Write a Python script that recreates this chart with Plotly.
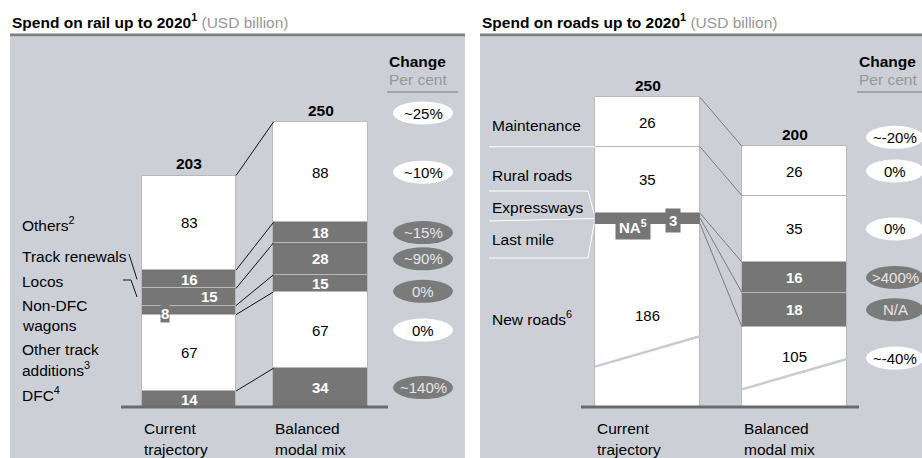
import plotly.graph_objects as go

# ---------------- data ----------------
BAR_NAMES = ["Current trajectory", "Balanced modal mix"]
BAR_LABEL_LINES = [["Current", "trajectory"], ["Balanced", "modal mix"]]

RAIL_SEGMENTS = ["DFC", "Other track additions", "Non-DFC wagons", "Locos", "Track renewals", "Others"]
RAIL_LABELS = [["DFC<sup>4</sup>"], ["Other track", "additions<sup>3</sup>"], ["Non-DFC", "wagons"],
               ["Locos"], ["Track renewals"], ["Others<sup>2</sup>"]]
RAIL_CURRENT = [14, 67, 8, 15, 16, 83]
RAIL_BALANCED = [34, 67, 15, 28, 18, 88]
RAIL_CHANGE = ["~140%", "0%", "0%", "~90%", "~15%", "~10%"]
RAIL_TOTAL_CHANGE = "~25%"

ROAD_SEGMENTS = ["New roads", "Last mile", "Expressways", "Rural roads", "Maintenance"]
ROAD_LABELS = [["New roads<sup>6</sup>"], ["Last mile"], ["Expressways"], ["Rural roads"], ["Maintenance"]]
ROAD_CURRENT = [186, 3, None, 35, 26]          # None = NA
ROAD_BALANCED = [105, 18, 16, 35, 26]
ROAD_CHANGE = ["~-40%", "N/A", ">400%", "0%", "0%"]
ROAD_TOTAL_CHANGE = "~-20%"

TITLES = ["Spend on rail up to 2020", "Spend on roads up to 2020"]

# ---------------- style / layout ----------------
W, H = 922, 458
FONT = "Arial, 'Liberation Sans', Helvetica, sans-serif"
BG = "#ccd0d6"
DARK = "#767676"
PILL_DARK = "#7b7b7b"
OUTLINE = "#b8b8b8"
RULE = "#7f7f7f"
GRAY_TXT = "#979797"
BASE_PX = 407
BAR_W = 0.715
TXT = 15.5
NUM = 15

RAIL_DARK = [True, False, True, True, True, False]
ROAD_DARK = [False, True, True, False, False]

# scale break of the "New roads" segment and placeholder height of the NA band
BREAK_OFFSET, BREAK_SCALE = 42, 0.67
NA_SHOWN = 2.5
BREAK_AT, BREAK_RISE = 0.22, 16

P_RAIL = dict(L=10, R=465, c0=189, sp=131.5, s=1.14, xa="x", ya="y", base=(121, 388),
              chg_x=387, rule_r=458, pill_x=423, pill_w=60, label_x=20,
              label_y=[[394], [349, 369], [305, 325], [281], [256], [224]], conn="#111111")
P_ROAD = dict(L=480, R=922, c0=647.5, sp=147, s=1.9, xa="x2", ya="y2", base=(581, 859),
              chg_x=857, rule_r=922, pill_x=895, pill_w=58, label_x=490,
              label_y=[[318], [239], [207], [175], [126]], conn="#7a7a7a")


def ux(p, px):
    return (px - p["c0"]) / p["sp"]


def uy(p, py):
    return (BASE_PX - py) / p["s"]


fig = go.Figure()
shapes, annots = [], []


def text(t, x, y, xref, yref, size=TXT, color="black", xanchor="center", yanchor="middle", **kw):
    annots.append(dict(text=t, x=x, y=y, xref=xref, yref=yref, showarrow=False,
                       font=dict(family=FONT, size=size, color=color),
                       xanchor=xanchor, yanchor=yanchor, **kw))


def line_trace(p, xs, ys, color, width=1):
    fig.add_trace(go.Scatter(x=xs, y=ys, mode="lines", xaxis=p["xa"], yaxis=p["ya"],
                             line=dict(color=color, width=width), hoverinfo="skip",
                             showlegend=False))


def cum(vals):
    out, s = [], 0
    for v in vals:
        out.append(s)
        s += v
    return out, s


def panel(p, title, cur_shown, bal_shown, cur_txt, bal_txt, dark, labels, changes, total_change,
          totals, specials, band_nolines=(), label_y_fn=None, pill_y_fn=None):
    L, R = p["L"], p["R"]
    # background, title and rule
    shapes.append(dict(type="rect", xref="paper", yref="paper", x0=L / W, x1=R / W, y0=0,
                       y1=1 - 37 / H, fillcolor=BG, line=dict(width=0), layer="below"))
    shapes.append(dict(type="line", xref="paper", yref="paper", x0=L / W, x1=R / W,
                       y0=1 - 35 / H, y1=1 - 35 / H, line=dict(color=RULE, width=3)))
    text(f"<b>{title}<sup>1</sup></b><span style='color:{GRAY_TXT}'> (USD billion)</span>",
         L / W, 1 - 21 / H, "paper", "paper", xanchor="left")
    # change header
    text("<b>Change</b>", p["chg_x"] / W, 1 - 62 / H, "paper", "paper", xanchor="left")
    text("Per cent", p["chg_x"] / W, 1 - 79 / H, "paper", "paper", color=GRAY_TXT, xanchor="left")
    shapes.append(dict(type="line", xref="paper", yref="paper", x0=p["chg_x"] / W,
                       x1=p["rule_r"] / W, y0=1 - 92 / H, y1=1 - 92 / H,
                       line=dict(color="#a3a3a3", width=2)))

    bc, tc = cum(cur_shown)
    bb, tb = cum(bal_shown)
    xa, ya = p["xa"], p["ya"]
    # bars
    for i in range(len(cur_shown)):
        lw = [0 if i in band_nolines else 1, 1]
        fig.add_trace(go.Bar(x=[0, 1], y=[cur_shown[i], bal_shown[i]], base=[bc[i], bb[i]],
                             width=BAR_W, xaxis=xa, yaxis=ya, hoverinfo="skip", showlegend=False,
                             marker=dict(color=DARK if dark[i] else "white",
                                         line=dict(color=OUTLINE, width=lw))))
    # connectors
    xs, ys = [], []
    for i in range(len(cur_shown)):
        xs += [BAR_W / 2, 1 - BAR_W / 2, None]
        ys += [bc[i] + cur_shown[i], bb[i] + bal_shown[i], None]
    line_trace(p, xs, ys, p["conn"], 1)
    # baseline
    shapes.append(dict(type="line", xref=xa, yref=ya, x0=ux(p, p["base"][0]), x1=ux(p, p["base"][1]),
                       y0=0, y1=0, line=dict(color="#6b6b6b", width=3)))
    # in-bar labels
    for j, (bases, shown, txts) in enumerate([(bc, cur_shown, cur_txt), (bb, bal_shown, bal_txt)]):
        for i in range(len(shown)):
            cy = bases[i] + shown[i] / 2
            if label_y_fn:
                cy = label_y_fn(j, i, bases[i], shown[i], cy)
            t = txts[i]
            col = "white" if dark[i] else "black"
            if dark[i]:
                t = f"<b>{t}</b>"
            sp = specials.get((j, i))
            if sp is None:
                text(t, j, cy, xa, ya, size=NUM, color=col)
            elif sp.get("right"):
                text(t, j + BAR_W / 2 - sp["right"] / p["sp"], cy, xa, ya, size=NUM, color=col,
                     xanchor="right")
            else:
                text(t, j + sp["dx"] / p["sp"], cy, xa, ya, size=NUM, color=col,
                     bgcolor=DARK, borderpad=sp.get("pad", 1), yshift=sp.get("dy", 0))
    # totals
    for j, (top, tot) in enumerate([(tc, totals[0]), (tb, totals[1])]):
        text(f"<b>{tot}</b>", j, top, xa, ya, size=TXT, yshift=12)
    # category labels
    for j, lines in enumerate(BAR_LABEL_LINES):
        for k, ln in enumerate(lines):
            text(ln, j - BAR_W / 2, 1 - (428 + 21 * k) / H, xa, "paper", xanchor="left")
    # left labels
    for i, lines in enumerate(labels):
        for k, ln in enumerate(lines):
            text(ln, p["label_x"] / W, 1 - p["label_y"][i][k] / H, "paper", "paper", xanchor="left")
    # pills
    hw = p["pill_w"] / 2 / p["sp"]
    hh = 11.5 / p["s"]
    cx = ux(p, p["pill_x"])
    pills = [(tb + 9 / p["s"], total_change, False)]
    for i in range(len(bal_shown)):
        cy = bb[i] + bal_shown[i] / 2
        if pill_y_fn:
            cy = pill_y_fn(i, bb[i], bal_shown[i], cy)
        pills.append((cy, changes[i], dark[i]))
    for cy, t, dk in pills:
        shapes.append(dict(type="circle", xref=xa, yref=ya, x0=cx - hw, x1=cx + hw,
                           y0=cy - hh, y1=cy + hh, fillcolor=PILL_DARK if dk else "white",
                           line=dict(width=0)))
        text(t, cx, cy, xa, ya, size=NUM, color="#e6e6e6" if dk else "black")
    return bc, bb, tc, tb


# ---------------- rail panel ----------------
rail_totals = [sum(RAIL_CURRENT), sum(RAIL_BALANCED)]
rail_specials = {(0, 2): dict(dx=-24.5, dy=-3, pad=0), (0, 3): dict(right=16)}


def rail_pill_y(i, b, h, cy):
    return cy - 8 / P_RAIL["s"] if i == 2 else cy


rbc, rbb, _, _ = panel(P_RAIL, TITLES[0], RAIL_CURRENT, RAIL_BALANCED,
                       [str(v) for v in RAIL_CURRENT], [str(v) for v in RAIL_BALANCED],
                       RAIL_DARK, RAIL_LABELS, RAIL_CHANGE, RAIL_TOTAL_CHANGE, rail_totals,
                       rail_specials, pill_y_fn=rail_pill_y)

# leader lines for "Track renewals" and "Locos"
p = P_RAIL
ren_c = rbc[4] + RAIL_CURRENT[4] / 2
loc_c = rbc[3] + RAIL_CURRENT[3] / 2
line_trace(p, [ux(p, 129), ux(p, 137)], [uy(p, 254), ren_c], "#111111", 1)
line_trace(p, [ux(p, 123), ux(p, 131), ux(p, 137)], [uy(p, 280), uy(p, 280), loc_c], "#111111", 1)

# ---------------- road panel ----------------


def road_shown(vals):
    out = []
    for i, v in enumerate(vals):
        if v is None:
            out.append(NA_SHOWN)
        elif i == 0:
            out.append((v - BREAK_OFFSET) * BREAK_SCALE)
        else:
            out.append(v)
    return out


road_cur_shown = road_shown(ROAD_CURRENT)
road_bal_shown = road_shown(ROAD_BALANCED)
road_totals = [sum(v for v in ROAD_CURRENT if v is not None), sum(ROAD_BALANCED)]
road_cur_txt = [("NA<sup>5</sup>" if v is None else str(v)) for v in ROAD_CURRENT]
road_bal_txt = [str(v) for v in ROAD_BALANCED]
road_specials = {(0, 1): dict(dx=25, dy=0, pad=3), (0, 2): dict(dx=-14.5, dy=-11, pad=3)}


def road_label_y(j, i, b, h, cy):
    if i == 0:
        return max(cy, BREAK_AT * h + BREAK_RISE + 1.5)
    return cy


def road_pill_y(i, b, h, cy):
    if i == 0:
        return max(cy, BREAK_AT * h + BREAK_RISE + 1.5) - 2 / P_ROAD["s"]
    return cy


qbc, qbb, _, _ = panel(P_ROAD, TITLES[1], road_cur_shown, road_bal_shown, road_cur_txt,
                       road_bal_txt, ROAD_DARK, ROAD_LABELS, ROAD_CHANGE, ROAD_TOTAL_CHANGE,
                       road_totals, road_specials, band_nolines=(1, 2),
                       label_y_fn=road_label_y, pill_y_fn=road_pill_y)

p = P_ROAD
# scale-break lines inside the "New roads" segment
for j, h in enumerate([road_cur_shown[0], road_bal_shown[0]]):
    lo = BREAK_AT * h
    line_trace(p, [j - BAR_W / 2, j + BAR_W / 2], [lo, lo + BREAK_RISE], "#c6cbd3", 2.5)

# white separator next to "Maintenance" and brackets for Expressways / Last mile
maint_base = qbc[4]
line_trace(p, [ux(p, 489), -BAR_W / 2], [maint_base, maint_base], "white", 1)
band_bot = qbc[1]
band_top = qbc[2] + road_cur_shown[2]
band_mid = (band_bot + band_top) / 2
line_trace(p, [ux(p, 489), ux(p, 588), ux(p, 594)], [uy(p, 191), uy(p, 191), band_top], "white", 1)
line_trace(p, [ux(p, 489), ux(p, 594)], [uy(p, 221), band_mid], "white", 1)
line_trace(p, [ux(p, 594), ux(p, 588), ux(p, 489)], [band_bot, uy(p, 258), uy(p, 258)], "white", 1)

# ---------------- axes ----------------
layout_axes = {}
for p, xk, yk in [(P_RAIL, "xaxis", "yaxis"), (P_ROAD, "xaxis2", "yaxis2")]:
    layout_axes[xk] = dict(domain=[p["L"] / W, p["R"] / W], range=[ux(p, p["L"]), ux(p, p["R"])],
                           visible=False, fixedrange=True, anchor=p["ya"])
    layout_axes[yk] = dict(domain=[0, 1], range=[uy(p, H), uy(p, 0)], visible=False,
                           fixedrange=True, anchor=p["xa"])

fig.update_layout(
    width=W, height=H, margin=dict(l=0, r=0, t=0, b=0),
    paper_bgcolor="white", plot_bgcolor="rgba(0,0,0,0)",
    barmode="overlay", bargap=0, showlegend=False,
    font=dict(family=FONT, size=TXT, color="black"),
    shapes=shapes, annotations=annots, **layout_axes,
)

fig.write_html("out.html", config={"displayModeBar": False},
               post_script="document.body.style.margin='0px';document.body.style.overflow='hidden';")
